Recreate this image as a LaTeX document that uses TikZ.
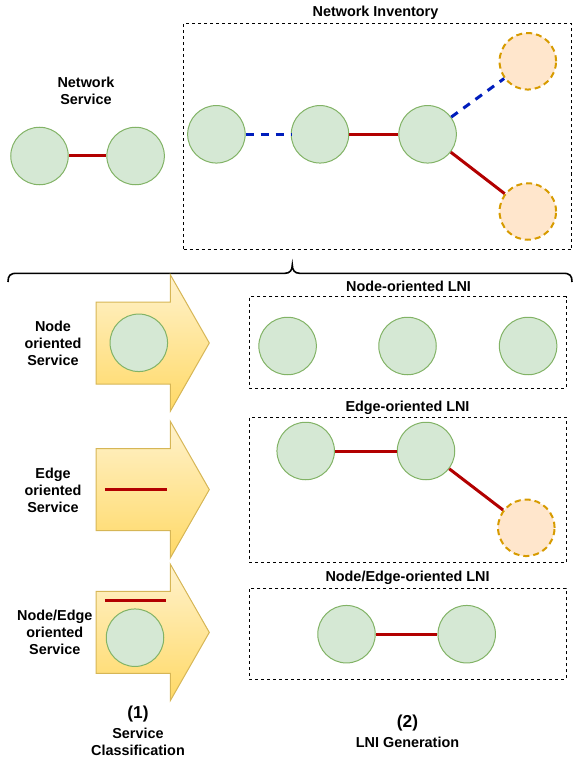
\documentclass[tikz,border=0pt]{standalone}
\usepackage{fontspec}
\setmainfont{Liberation Sans}
\definecolor{gfill}{HTML}{D5E8D4}
\definecolor{gstroke}{HTML}{82B366}
\definecolor{ofill}{HTML}{FFE6CC}
\definecolor{ostroke}{HTML}{D79B00}
\definecolor{redc}{HTML}{B20000}
\definecolor{bluec}{HTML}{001DBC}
\definecolor{atop}{HTML}{FFF2CC}
\definecolor{abot}{HTML}{FFD966}
\definecolor{astroke}{HTML}{D6B656}
\begin{document}
\begin{tikzpicture}[x=1pt,y=-1pt,
  gnode/.style={circle, draw=gstroke, fill=gfill, line width=1pt, minimum size=57.5pt, inner sep=0pt},
  onode/.style={circle, draw=ostroke, fill=ofill, line width=2pt, dash pattern=on 6pt off 4pt, minimum size=56.5pt, inner sep=0pt},
  redl/.style={draw=redc, line width=3pt},
  bluel/.style={draw=bluec, line width=3pt, dash pattern=on 8pt off 7pt},
  dbox/.style={draw=black, line width=1pt, dash pattern=on 3pt off 3pt, inner sep=0pt},
  lbl/.style={font=\bfseries\fontsize{14.4}{17}\selectfont, align=center, inner sep=0pt},
  numlbl/.style={font=\bfseries\fontsize{17.3}{20}\selectfont, align=center, inner sep=0pt},
  arrowfill/.style={draw=astroke, line width=1pt, top color=atop, bottom color=abot},
  bigarrow/.pic={\path[arrowfill] (0,-41) -- (74.3,-41) -- (74.3,-68.3) -- (113.3,0) -- (74.3,68.3) -- (74.3,41) -- (0,41) -- cycle;}
]
\useasboundingbox (0,0) rectangle (573,762);

% ---------- top part ----------
\node[lbl] (nstitle) at (86,91) {Network\\Service};
\node[gnode] (ns1) at (39.5,156) {};
\node[gnode] (ns2) at (135.6,156) {};
\draw[redl] (ns1) -- (ns2);

\node[lbl] (invtitle) at (375.5,12.5) {Network Inventory};
\node[dbox, minimum width=388.2pt, minimum height=225.3pt] (invbox) at (377.6,136.65) {};
\node[gnode] (inv1) at (216.4,134.3) {};
\node[gnode] (inv2) at (320,134.3) {};
\node[gnode] (inv3) at (427.6,134.3) {};
\node[onode] (invo1) at (527.8,61.3) {};
\node[onode] (invo2) at (527.8,211.5) {};
\draw[bluel] (inv1) -- (inv2);
\draw[redl] (inv2) -- (inv3);
\draw[bluel] (inv3) -- (invo1);
\draw[redl] (inv3) -- (invo2);

% ---------- brace ----------
\draw[line width=1.6pt, black] (8,282) .. controls (8,275.5) and (10,273.3) .. (17,273.3) -- (285,273.3)
  .. controls (290,273.3) and (292.3,270) .. (292.3,265)
  .. controls (292.3,270) and (294.6,273.3) .. (299.6,273.3) -- (563,273.3)
  .. controls (570,273.3) and (572,275.5) .. (572,282);

% ---------- row 1: node oriented ----------
\node[lbl] (lab1) at (53,343) {Node\\oriented\\Service};
\pic (arr1) at (96,343) {bigarrow};
\node[gnode] (a1c) at (138.8,342.8) {};
\node[lbl] (t1) at (408.6,286.7) {Node-oriented LNI};
\node[dbox, minimum width=316.7pt, minimum height=91.6pt] (box1) at (407.65,342.5) {};
\node[gnode] (b1n1) at (287.6,346) {};
\node[gnode] (b1n2) at (407.5,346) {};
\node[gnode] (b1n3) at (528.1,346) {};

% ---------- row 2: edge oriented ----------
\node[lbl] (lab2) at (53,490) {Edge\\oriented\\Service};
\pic (arr2) at (96,489.6) {bigarrow};
\coordinate (a2l) at (104.9,489.3);
\coordinate (a2r) at (166.7,489.3);
\draw[redl] (a2l) -- (a2r);
\node[lbl] (t2) at (407.5,407.5) {Edge-oriented LNI};
\node[dbox, minimum width=317pt, minimum height=145.4pt] (box2) at (407.8,490) {};
\node[gnode] (e1) at (305.7,451) {};
\node[gnode] (e2) at (426,451) {};
\node[onode] (eo) at (526.3,527.8) {};
\draw[redl] (e1) -- (e2);
\draw[redl] (e2) -- (eo);

% ---------- row 3: node/edge oriented ----------
\node[lbl] (lab3) at (54.8,632.5) {Node/Edge\\oriented\\Service};
\pic (arr3) at (96,632.4) {bigarrow};
\coordinate (a3l) at (104.9,600.7);
\coordinate (a3r) at (165.6,600.7);
\draw[redl] (a3l) -- (a3r);
\node[gnode] (a3c) at (135,637.7) {};
\node[lbl] (t3) at (407.5,578.3) {Node/Edge-oriented LNI};
\node[dbox, minimum width=317pt, minimum height=91pt] (box3) at (407.8,633.8) {};
\node[gnode] (ne1) at (346.5,634.2) {};
\node[gnode] (ne2) at (466.7,634.2) {};
\draw[redl] (ne1) -- (ne2);

% ---------- bottom labels ----------
\node[numlbl] (n1) at (138,714.3) {(1)};
\node[lbl] (n1t) at (138,741.7) {Service\\Classification};
\node[numlbl] (n2) at (407.5,723.3) {(2)};
\node[lbl] (n2t) at (407.5,742.7) {LNI Generation};
\end{tikzpicture}
\end{document}
